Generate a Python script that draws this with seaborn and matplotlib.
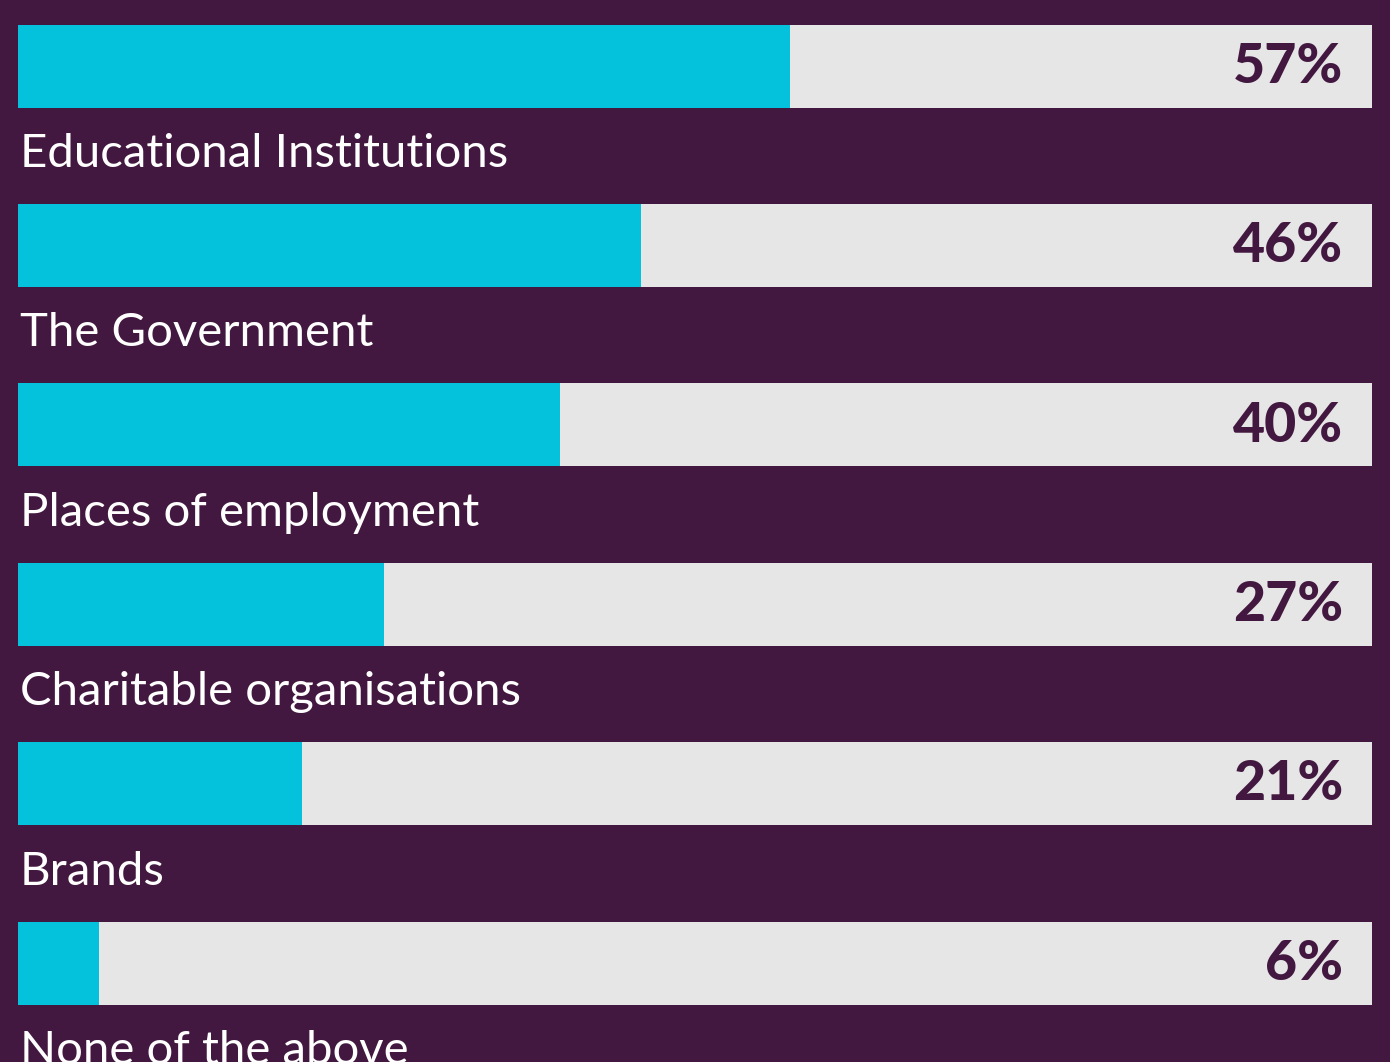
import matplotlib
matplotlib.use("Agg")
import matplotlib.pyplot as plt
import seaborn as sns
import pandas as pd

categories = ["Educational Institutions", "The Government", "Places of employment",
              "Charitable organisations", "Brands", "None of the above"]
values = [57, 46, 40, 27, 21, 6]
value_labels = ["57%", "46%", "40%", "27%", "21%", "6%"]

BG = "#431840"
CYAN = "#04C2DC"
TRACK = "#E6E6E6"

sns.set_theme(style="white")
plt.rcParams["font.family"] = ["Lato", "DejaVu Sans"]

df = pd.DataFrame({"cat": categories, "val": values, "full": [100] * len(values)})

W, H = 1390, 1062
fig = plt.figure(figsize=(W / 100, H / 100), dpi=100, facecolor=BG)
ax = fig.add_axes([18 / W, 0, 1354 / W, 1])
ax.set_facecolor(BG)

step = 179.4
c0 = 24.5 + 41.5
bh = 83 / step
sns.barplot(data=df, y="cat", x="full", color=TRACK, width=bh, ax=ax,
            saturation=1, orient="h", linewidth=0)
sns.barplot(data=df, y="cat", x="val", color=CYAN, width=bh, ax=ax,
            saturation=1, orient="h", linewidth=0)

ax.set_xlim(0, 100)
ax.set_ylim((H - c0) / step, -c0 / step)
ax.axis("off")

for i, (c, lab) in enumerate(zip(categories, value_labels)):
    ax.text(97.85, i + 0.005, lab, ha="right", va="center", fontsize=40, fontweight=900,
            color=BG)
    ax.text(0.15, i + 0.49, c, ha="left", va="center", fontsize=34, color="white")

fig.savefig("out.png", dpi=100, facecolor=BG)
